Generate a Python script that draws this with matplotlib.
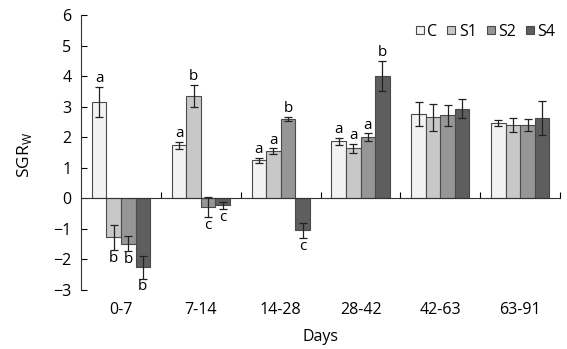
import numpy as np
import matplotlib.pyplot as plt
from matplotlib.lines import Line2D
import matplotlib.transforms as mtransforms

plt.rcParams['font.family'] = ['Open Sans', 'DejaVu Sans']

days = ['0-7', '7-14', '14-28', '28-42', '42-63', '63-91']
groups = ['C', 'S1', 'S2', 'S4']

c_vals = [3.15, 1.74, 1.25, 1.87, 2.76, 2.47]
s1_vals = [-1.28, 3.35, 1.54, 1.64, 2.65, 2.40]
s2_vals = [-1.48, -0.28, 2.59, 2.00, 2.72, 2.40]
s4_vals = [-2.26, -0.23, -1.05, 4.00, 2.94, 2.63]

c_err = [0.50, 0.12, 0.08, 0.12, 0.40, 0.10]
s1_err = [0.42, 0.37, 0.10, 0.15, 0.45, 0.22]
s2_err = [0.25, 0.33, 0.07, 0.13, 0.35, 0.20]
s4_err = [0.37, 0.12, 0.25, 0.50, 0.30, 0.55]

c_let = ['a', 'a', 'a', 'a', '', '']
s1_let = ['b', 'b', 'a', 'a', '', '']
s2_let = ['b', 'c', 'b', 'a', '', '']
s4_let = ['b', 'c', 'c', 'b', '', '']

colors = ['#f2f2f2', '#c8c8c8', '#969696', '#5e5e5e']
edge = '#4a4a4a'

fig = plt.figure(figsize=(5.67, 3.49), dpi=100)
ax = fig.add_axes([0.143, 0.169, 0.845, 0.788])

x = np.arange(len(days))
w = 0.182
vals = [c_vals, s1_vals, s2_vals, s4_vals]
errs = [c_err, s1_err, s2_err, s4_err]
lets = [c_let, s1_let, s2_let, s4_let]

for k in range(4):
    pos = x + (k - 1.5) * w
    ax.bar(pos, vals[k], w, color=colors[k], edgecolor=edge, linewidth=0.8, zorder=2)
    ax.errorbar(pos, vals[k], yerr=errs[k], fmt='none', ecolor='#222222',
                elinewidth=0.9, capsize=3, capthick=0.9, zorder=3)
    for i in range(len(days)):
        if not lets[k][i]:
            continue
        v = vals[k][i]
        e = errs[k][i]
        if v >= 0:
            ax.text(pos[i], v + e + 0.02, lets[k][i], ha='center', va='bottom', fontsize=11)
        else:
            ax.text(pos[i], v - e - 0.02, lets[k][i], ha='center', va='top', fontsize=11)

ax.set_xlim(-0.5, 5.5)
ax.set_ylim(-3, 6)
ax.set_yticks(range(-3, 7))
ax.tick_params(axis='y', direction='in', length=4, labelsize=11.5, pad=7)
ax.spines['top'].set_visible(False)
ax.spines['right'].set_visible(False)
ax.spines['bottom'].set_position(('data', 0))
ax.spines['left'].set_color('#333333')
ax.spines['bottom'].set_color('#333333')
ax.set_xticks(np.arange(0.5, 6, 1))
ax.tick_params(axis='x', direction='in', length=4, labelbottom=False)

trans = mtransforms.blended_transform_factory(ax.transData, ax.transAxes)
for i, d in enumerate(days):
    ax.text(i, -0.073, d, transform=trans, ha='center', va='center', fontsize=11.5)

ax.text(0.5, -0.171, 'Days', transform=ax.transAxes, ha='center', va='center', fontsize=11.5)
ax.text(-0.118, 0.49, r'SGR$_\mathregular{W}$', transform=ax.transAxes, rotation=90,
        ha='center', va='center', fontsize=12.5)

handles = [Line2D([], [], marker='s', linestyle='none', markersize=5.5,
                  markerfacecolor=colors[k], markeredgecolor=edge, markeredgewidth=0.8)
           for k in range(4)]
ax.legend(handles, groups, ncol=4, frameon=False, loc='upper right',
          bbox_to_anchor=(1.02, 1.02), handlelength=0.6, handletextpad=0.15,
          columnspacing=0.6, fontsize=11.5)

fig.savefig('out.png', dpi=100)
